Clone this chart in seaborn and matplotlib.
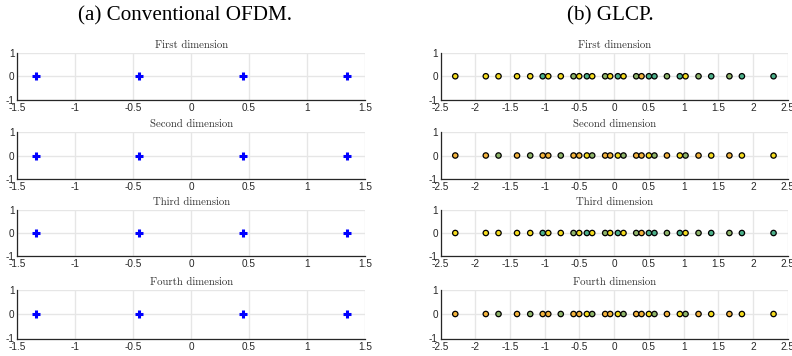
import numpy as np
import pandas as pd
import matplotlib
matplotlib.use("Agg")
import matplotlib.pyplot as plt
import seaborn as sns

# Conventional OFDM: 4-PAM levels per real dimension
ofdm_levels = [-1.342, -0.447, 0.447, 1.342]

# GLCP: projected constellation points (same positions in every dimension)
glcp_points = [-2.29, -1.85, -1.667, -1.40, -1.21, -1.03, -0.95, -0.77,
               -0.586, -0.504, -0.394, -0.317, -0.13, -0.058,
               0.053, 0.134, 0.317, 0.394, 0.50, 0.58, 0.76,
               0.946, 1.028, 1.215, 1.398, 1.66, 1.84, 2.296]

# Colour group of each GLCP point (Y=yellow, O=orange, T=teal, G=olive green)
groups_first = ["Y", "Y", "Y", "Y", "Y", "T", "Y", "Y", "G", "Y", "T", "Y", "G", "Y",
                "T", "Y", "G", "O", "T", "T", "G", "T", "Y", "G", "T", "G", "T", "T"]
groups_second = ["O", "O", "G", "O", "G", "O", "O", "G", "O", "O", "Y", "G", "O", "O",
                 "Y", "G", "O", "O", "Y", "G", "O", "Y", "G", "O", "Y", "O", "Y", "Y"]
groups_third = list(groups_first)
groups_fourth = list(groups_second)

dimension_titles = ["First dimension", "Second dimension",
                    "Third dimension", "Fourth dimension"]
glcp_groups = [groups_first, groups_second, groups_third, groups_fourth]

palette = {"Y": "#f5dc1e", "O": "#f4b43c", "T": "#4cb08a", "G": "#8fb56a"}

left_xticks = [-1.5, -1, -0.5, 0, 0.5, 1, 1.5]
left_xticklabels = ["-1.5", "-1", "-0.5", "0", "0.5", "1", "1.5"]
right_xticks = [-2.5, -2, -1.5, -1, -0.5, 0, 0.5, 1, 1.5, 2, 2.5]
right_xticklabels = ["-2.5", "-2", "-1.5", "-1", "-0.5", "0", "0.5", "1", "1.5", "2", "2.5"]
yticks = [-1, 0, 1]
yticklabels = ["-1", "0", "1"]

sns.set_theme(style="white")
plt.rcParams["font.family"] = ["Liberation Sans", "DejaVu Sans"]

W, H = 792, 356
fig = plt.figure(figsize=(W / 100, H / 100), dpi=100)

rows_px = [(53, 99.5), (132, 179), (210, 256), (289.5, 338.5)]
cols_px = [(17.3, 365.0), (440.7, 787.7)]


def make_axes(col, row):
    x0, x1 = cols_px[col]
    y0, y1 = rows_px[row]
    return fig.add_axes([x0 / W, 1 - y1 / H, (x1 - x0) / W, (y1 - y0) / H])


def style_axes(ax, xticks, xlabels, title):
    ax.set_ylim(-1, 1)
    ax.set_xlim(xticks[0], xticks[-1])
    ax.set_xticks(xticks)
    ax.set_xticklabels(xlabels)
    ax.set_yticks(yticks)
    ax.set_yticklabels(yticklabels)
    ax.grid(True, color="#e6e6e6", linewidth=1.0)
    ax.set_axisbelow(True)
    for side in ["top", "right"]:
        ax.spines[side].set_visible(False)
    for side in ["left", "bottom"]:
        ax.spines[side].set_color("#262626")
        ax.spines[side].set_linewidth(0.9)
    ax.tick_params(direction="in", length=3, width=0.8, color="#262626",
                   labelsize=7.2, labelcolor="#262626", pad=2)
    ax.tick_params(axis="x", pad=2.5)
    ax.set_xlabel("")
    ax.set_ylabel("")
    ax.set_title(title, fontsize=7.8, family="cmr10", color="#333333", pad=3.5)


for row, title in enumerate(dimension_titles):
    # Conventional OFDM column
    ax = make_axes(0, row)
    df = pd.DataFrame({"x": ofdm_levels, "y": np.zeros(len(ofdm_levels))})
    sns.scatterplot(data=df, x="x", y="y", ax=ax, marker="+", s=34,
                    color="#0000ff", linewidth=2.2, zorder=3)
    style_axes(ax, left_xticks, left_xticklabels, title)

    # GLCP column
    ax = make_axes(1, row)
    df = pd.DataFrame({"x": glcp_points, "y": np.zeros(len(glcp_points)),
                       "group": glcp_groups[row]})
    sns.scatterplot(data=df, x="x", y="y", hue="group", palette=palette, ax=ax,
                    s=15, edgecolor="black", linewidth=0.9, legend=False,
                    zorder=3, clip_on=False)
    style_axes(ax, right_xticks, right_xticklabels, title)

fig.text(185 / W, 1 - 16 / H, "(a) Conventional OFDM.", ha="center", va="center",
         family=["Liberation Serif"], fontsize=15.2, color="black")
fig.text(610 / W, 1 - 16 / H, "(b) GLCP.", ha="center", va="center",
         family=["Liberation Serif"], fontsize=15.2, color="black")

fig.savefig("out.png", dpi=100)
